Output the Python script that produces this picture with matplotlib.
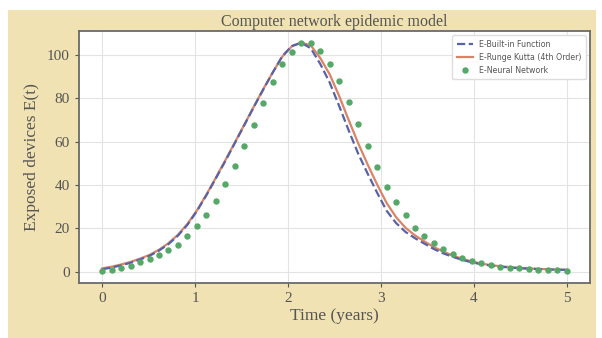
import numpy as np
import matplotlib
matplotlib.use('Agg')
import matplotlib.pyplot as plt
from matplotlib.patches import Rectangle

# time grid (50 samples over 5 years)
t = np.linspace(0, 5, 50)

e_builtin = [1.2, 2.0, 3.0, 4.2, 5.7, 7.4, 9.8, 12.8, 16.7, 21.7,
             28.0, 35.3, 43.1, 51.1, 59.3, 67.6, 75.9, 84.0, 91.8, 99.3,
             104.0, 105.5, 103.0, 95.8, 87.2, 76.4, 65.2, 54.5, 45.3, 36.5,
             28.2, 22.5, 18.4, 15.5, 13.0, 10.5, 8.5, 6.9, 5.5, 4.4,
             3.5, 2.9, 2.4, 2.0, 1.7, 1.5, 1.3, 1.1, 1.0, 0.9]

e_rk4 = [1.6, 2.4, 3.4, 4.6, 6.1, 7.8, 10.2, 13.2, 17.1, 22.1,
         28.3, 35.6, 43.4, 51.4, 59.6, 67.8, 76.1, 84.2, 91.9, 99.1,
         103.8, 105.6, 104.3, 98.5, 91.0, 81.0, 70.0, 59.3, 49.5, 40.3,
         31.8, 25.2, 20.3, 16.8, 14.0, 11.4, 9.3, 7.5, 6.0, 4.8,
         3.8, 3.1, 2.6, 2.2, 1.8, 1.6, 1.4, 1.2, 1.1, 1.0]

e_nn = [0.2, 0.8, 1.6, 2.8, 4.4, 6.0, 7.9, 10.1, 12.6, 16.3,
        21.0, 26.4, 32.6, 40.4, 48.9, 57.9, 67.6, 77.6, 87.3, 95.6,
        101.4, 105.6, 105.3, 101.6, 95.9, 88.1, 78.1, 68.0, 57.9, 48.5,
        39.3, 32.2, 26.0, 20.4, 16.5, 13.1, 10.6, 8.4, 6.6, 5.0,
        4.0, 3.1, 2.4, 1.9, 1.6, 1.3, 1.1, 0.9, 0.8, 0.6]

labels = ['E-Built-in Function', 'E-Runge Kutta (4th Order)', 'E-Neural Network']

txt = '#555555'
serif = ['Liberation Serif', 'DejaVu Serif']

fig = plt.figure(figsize=(6.02, 3.38), dpi=100, facecolor='white')
fig.patches.append(Rectangle((8 / 602, 0), 588 / 602, 328 / 338,
                             transform=fig.transFigure, facecolor='#F0E2B2',
                             edgecolor='none', zorder=-10))
ax = fig.add_axes([0.131, 0.163, 0.849, 0.745])
ax.set_facecolor('white')

ax.plot(t, e_builtin, '--', color='#5862A6', lw=1.6, label=labels[0], zorder=3)
ax.plot(t, e_rk4, '-', color='#DA8466', lw=1.6, label=labels[1], zorder=2)
ax.plot(t, e_nn, 'o', color='#55A868', ms=3.6, label=labels[2], zorder=4)

ax.grid(True, color='#E3E3E3', lw=0.8)
ax.set_axisbelow(True)
for s in ax.spines.values():
    s.set_color('#6a6a6a')
    s.set_linewidth(1.3)
ax.tick_params(colors=txt, labelsize=11, length=3, width=0.8)
for lab in ax.get_xticklabels() + ax.get_yticklabels():
    lab.set_family(serif)
ax.set_xticks([0, 1, 2, 3, 4, 5])
ax.set_yticks([0, 20, 40, 60, 80, 100])

ax.set_title('Computer network epidemic model', family=serif, fontsize=11.5,
             color=txt, pad=4)
ax.set_xlabel('Time (years)', family=serif, fontsize=12.5, color=txt, labelpad=2)
ax.set_ylabel('Exposed devices E(t)', family=serif, fontsize=12.5, color=txt, labelpad=5)

leg = ax.legend(loc='upper right', fontsize=5.7, frameon=True, framealpha=1,
                edgecolor='#dddddd', handlelength=2.0, borderpad=0.6)
for tx in leg.get_texts():
    tx.set_color('#555555')

fig.savefig('out.png', dpi=100, facecolor=fig.get_facecolor())
